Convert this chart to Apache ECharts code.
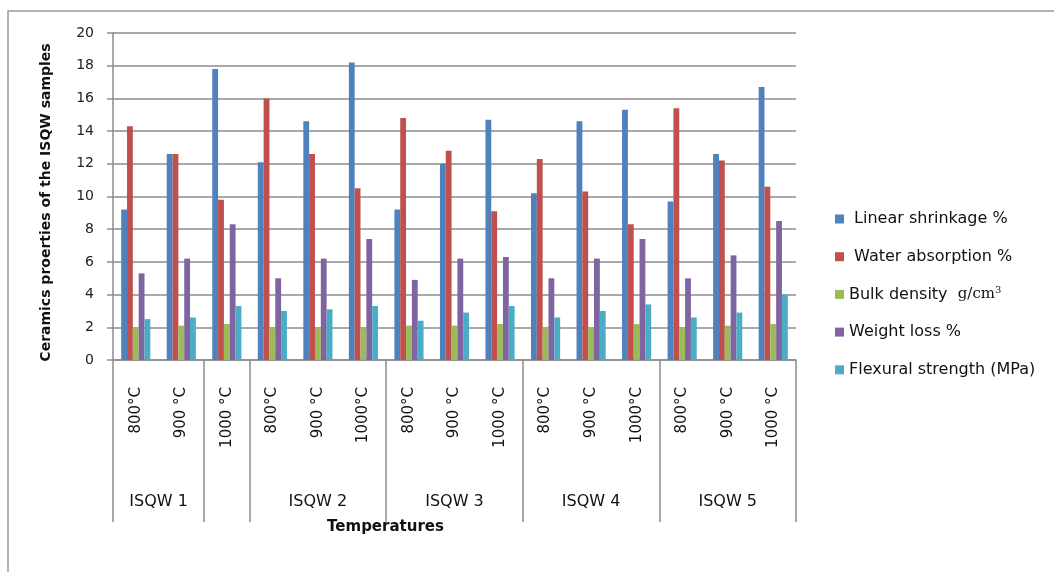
<!DOCTYPE html>
<html>
<head>
<meta charset="utf-8">
<script src="https://cdn.jsdelivr.net/npm/echarts@6/dist/echarts.min.js"></script>
<style>
  html, body { margin: 0; padding: 0; background: #fff; }
  #chart { width: 1054px; height: 572px; }
</style>
</head>
<body>
<div id="chart"></div>
<script>
// temperatures (one per bar group), read left to right
const temps = [
  '800°C', '900 °C', '1000 °C',
  '800°C', '900 °C', '1000°C',
  '800°C', '900 °C', '1000 °C',
  '800°C', '900 °C', '1000°C',
  '800°C', '900 °C', '1000 °C'
]
// sample groups and how many temperatures each cell spans
const groupNames = ['ISQW 1', '', 'ISQW 2', 'ISQW 3', 'ISQW 4', 'ISQW 5']
const groupSpans = [2, 1, 3, 3, 3, 3]

const seriesNames = [
  'Linear shrinkage %',
  'Water absorption %',
  'Bulk density g/cm3',
  'Weight loss %',
  'Flexural strength (MPa)'
]
const linearShrinkage = [9.2, 12.6, 17.8, 12.1, 14.6, 18.2, 9.2, 12.0, 14.7, 10.2, 14.6, 15.3, 9.7, 12.6, 16.7]
const waterAbsorption = [14.3, 12.6, 9.8, 16.0, 12.6, 10.5, 14.8, 12.8, 9.1, 12.3, 10.3, 8.3, 15.4, 12.2, 10.6]
const bulkDensity = [2.0, 2.1, 2.2, 2.0, 2.0, 2.0, 2.1, 2.1, 2.2, 2.0, 2.0, 2.2, 2.0, 2.1, 2.2]
const weightLoss = [5.3, 6.2, 8.3, 5.0, 6.2, 7.4, 4.9, 6.2, 6.3, 5.0, 6.2, 7.4, 5.0, 6.4, 8.5]
const flexuralStrength = [2.5, 2.6, 3.3, 3.0, 3.1, 3.3, 2.4, 2.9, 3.3, 2.6, 3.0, 3.4, 2.6, 2.9, 4.0]

const colors = ['#4F81BD', '#C0504D', '#9BBB59', '#8064A2', '#4BACC6']
const values = [linearShrinkage, waterAbsorption, bulkDensity, weightLoss, flexuralStrength]

// cell borders and centres on a 0..15 scale
const groupEdges = [0]
const groupCenters = []
groupSpans.forEach(s => {
  const start = groupEdges[groupEdges.length - 1]
  groupCenters.push(start + s / 2)
  groupEdges.push(start + s)
})

const font = 'DejaVu Sans'
const gridColor = '#8c8c8c'

const chart = echarts.init(document.getElementById('chart'))

const option = {
  animation: false,
  color: colors,
  textStyle: { fontFamily: font },
  grid: { left: 113, right: 258, top: 33, bottom: 212 },
  legend: {
    orient: 'vertical',
    left: 830,
    top: 205,
    itemWidth: 9,
    itemHeight: 9,
    itemGap: 19.7,
    icon: 'rect',
    textStyle: {
      fontSize: 16,
      lineHeight: 18,
      color: '#111',
      rich: {
        sup: { fontSize: 10, lineHeight: 18, verticalAlign: 'top', padding: [0, 0, 8, 0], fontFamily: 'DejaVu Serif', color: '#111' },
        ser: { fontSize: 15, lineHeight: 18, fontFamily: 'DejaVu Serif', color: '#111' }
      }
    },
    formatter: name => {
      if (name === 'Bulk density g/cm3') return 'Bulk density  {ser|g/cm}{sup|3}'
      if (name === 'Linear shrinkage %' || name === 'Water absorption %') return ' ' + name
      return name
    },
    data: seriesNames
  },
  xAxis: [
    {
      type: 'category',
      data: temps,
      axisLine: { lineStyle: { color: gridColor, width: 1.5 } },
      axisTick: { show: false },
      axisLabel: { rotate: 90, margin: 27, fontSize: 15, color: '#111' }
    },
    {
      type: 'value',
      min: 0,
      max: 15,
      position: 'bottom',
      axisLine: { show: false },
      splitLine: { show: false },
      axisTick: {
        show: true,
        customValues: groupEdges,
        length: 162,
        lineStyle: { color: gridColor, width: 1.5 }
      },
      axisLabel: {
        customValues: groupCenters,
        margin: 134,
        fontSize: 16,
        color: '#111',
        formatter: v => groupNames[groupCenters.indexOf(v)] || ''
      },
      name: 'Temperatures',
      nameLocation: 'middle',
      nameGap: 160,
      nameTextStyle: { fontSize: 15, fontWeight: 'bold', color: '#111', padding: [0, 138, 0, 0] }
    }
  ],
  yAxis: {
    type: 'value',
    min: 0,
    max: 20,
    interval: 2,
    name: 'Ceramics proerties of the ISQW samples',
    nameLocation: 'middle',
    nameGap: 60,
    nameTextStyle: { fontSize: 14, fontWeight: 'bold', color: '#111', padding: [0, 12, 0, 0] },
    axisLine: { show: true, lineStyle: { color: gridColor, width: 1.5 } },
    axisTick: { show: true, length: 6, lineStyle: { color: gridColor, width: 1.5 } },
    axisLabel: { fontSize: 14, color: '#222', margin: 19 },
    splitLine: { lineStyle: { color: gridColor, width: 1.5 } }
  },
  series: seriesNames.map((name, i) => ({
    name: name,
    type: 'bar',
    xAxisIndex: 0,
    data: values[i],
    barGap: '0%',
    barCategoryGap: '36%'
  })),
  graphic: [
    {
      type: 'rect',
      shape: { x: 8, y: 11, width: 1100, height: 600 },
      style: { fill: 'none', stroke: '#9a9a9a', lineWidth: 1.5 },
      silent: true
    }
  ]
}

chart.setOption(option)
</script>
</body>
</html>
